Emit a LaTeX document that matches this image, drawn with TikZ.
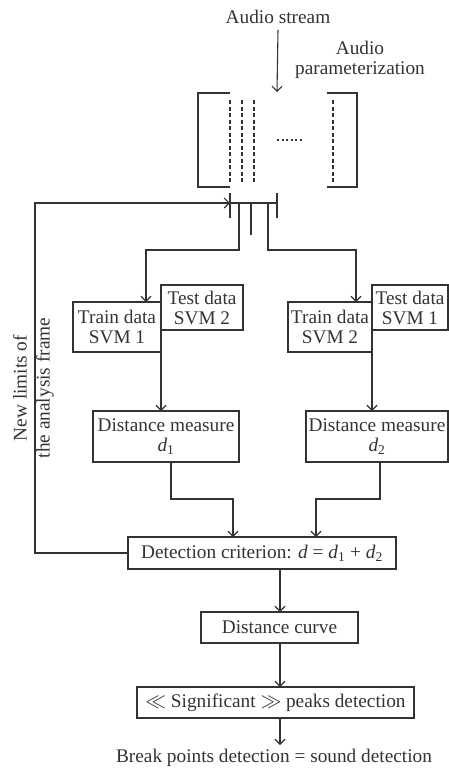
\documentclass[tikz,border=0pt]{standalone}
\usepackage{fontspec}
\setmainfont{Liberation Serif}
\usetikzlibrary{arrows.meta}
\definecolor{ink}{HTML}{333333}
\begin{document}
\begin{tikzpicture}[x=1pt,y=-1pt,
  every node/.style={text=ink,font=\fontsize{19.3}{20}\selectfont,inner sep=0pt},
  box/.style={draw=ink,line width=1.1pt,align=center,anchor=center,outer sep=0pt},
  ln/.style={draw=ink,line width=1.1pt},
  arr/.style={ln,-{Straight Barb[length=5pt,width=10pt]}},
  dsh/.style={ln,dash pattern=on 4pt off 2.5pt}]
\useasboundingbox (0,0) rectangle (449,772);

% top labels
\node (as) at (278,17) {Audio stream};
\node[align=center] (ap) at (360,60) {Audio\\parameterization};

% bracket frame
\draw[ln] (230,93) -- (198,93) -- (198,187) -- (230,187);
\draw[ln] (327,93) -- (357,93) -- (357,187) -- (327,187);
\draw[dsh] (230,100) -- (230,184);
\draw[dsh] (242,100) -- (242,184);
\draw[dsh] (254,100) -- (254,184);
\draw[dsh] (333,100) -- (333,184);
\draw[ln,dash pattern=on 2pt off 2.5pt] (277,140) -- (303,140);
\coordinate (ftop) at (277,92);
\draw[arr] (as.south) ++(0,6) -- (ftop);

% analysis frame marks
\coordinate (fl) at (230,203);
\coordinate (fr) at (277,203);
\draw[ln] (230,193) -- (230,218);
\draw[ln] (277,193) -- (277,218);
\draw[ln] (fl) -- (fr);
\draw[ln] (251,203) -- (251,235);

% boxes
\node[box,minimum width=82pt,minimum height=45pt] (te2) at (202,307.5) {Test data\\SVM 2};
\node[box,minimum width=88pt,minimum height=50pt] (tr1) at (117,327) {Train data\\SVM 1};
\node[box,minimum width=76pt,minimum height=45pt] (te1) at (410,307.5) {Test data\\SVM 1};
\node[box,minimum width=84pt,minimum height=50pt] (tr2) at (330,327) {Train data\\SVM 2};
\node[box,minimum width=146pt,minimum height=51pt] (dm1) at (166,436.5) {Distance measure\\\textit{d}\textsubscript{1}};
\node[box,minimum width=142pt,minimum height=51pt] (dm2) at (377,436.5) {Distance measure\\\textit{d}\textsubscript{2}};
\node[box,minimum width=268pt,minimum height=32pt] (det) at (262,553) {Detection criterion: \textit{d} = \textit{d}\textsubscript{1} + \textit{d}\textsubscript{2}};
\node[box,minimum width=157pt,minimum height=31pt] (dc) at (279.5,627.5) {Distance curve};
\node[box,minimum width=277pt,minimum height=31pt] (sig) at (275.5,702.5) {$\ll$ Significant $\gg$ peaks detection};
\node (bp) at (274,758) {Break points detection = sound detection};

% split to training branches
\draw[arr] (239,203) -- (239,250) -- (146,250) -- (146,302);
\draw[arr] (268,203) -- (268,250) -- (356,250) -- (356,302);

% to distance measures
\draw[arr] (tr1.south east) -- (tr1.south east |- dm1.north);
\draw[arr] (tr2.south east) -- (tr2.south east |- dm2.north);

% to detection criterion
\draw[arr] (171,462) -- (171,499) -- (233,499) -- (233,537);
\draw[arr] (380,462) -- (380,499) -- (316,499) -- (316,537);

% feedback
\draw[arr] (det.west) -- (35,553) -- (35,203) -- (fl);
\node[rotate=90,align=center,font=\fontsize{19.3}{23}\selectfont] (nl) at (33.5,388) {New limits of\\the analysis frame};

% lower chain
\draw[arr] (280,569) -- (280,612);
\draw[arr] (280,643) -- (280,687);
\draw[arr] (280,718) -- (280,745);
\end{tikzpicture}
\end{document}
